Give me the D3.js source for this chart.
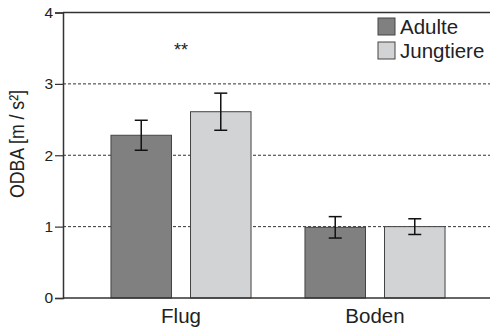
<!DOCTYPE html>
<html>
<head>
    <meta charset="utf-8">
    <style>
        body { margin: 0; background: #fff; }
        svg { display: block; font-family: 'Liberation Sans', Arial, Helvetica, sans-serif; }
    </style>
</head>
<body>
<svg width="490" height="332"></svg>

<script src="https://d3js.org/d3.v7.min.js"></script>
<script>
    // data
    let categories = ["Flug", "Boden"]
    let groups = ["Adulte", "Jungtiere"]
    let adulte = [2.28, 0.99]
    let adulteErr = [0.21, 0.15]
    let jungtiere = [2.61, 1.0]
    let jungtiereErr = [0.26, 0.11]
    let yTicks = [0, 1, 2, 3, 4]
    let gridTicks = [1, 2, 3]

    let colors = { "Adulte": "#808080", "Jungtiere": "#d2d3d5" }

    let rows = []
    categories.forEach((c, i) => {
        rows.push({ cat: c, grp: "Adulte", val: adulte[i], err: adulteErr[i] })
        rows.push({ cat: c, grp: "Jungtiere", val: jungtiere[i], err: jungtiereErr[i] })
    })

    let svg = d3.select("svg")
    let mLeft = 63, mRight = 490, mTop = 12.5, mBottom = 298

    let y = d3.scaleLinear().domain([0, 4]).range([mBottom, mTop])

    let x0 = d3.scaleBand()
        .domain(categories)
        .range([84, 472])
        .paddingInner(0.278)
        .paddingOuter(0.139)

    let x1 = d3.scaleBand()
        .domain(groups)
        .range([0, x0.bandwidth()])
        .paddingInner(0.239)

    // dashed grid
    svg.append("g")
        .selectAll("line")
        .data(gridTicks)
        .join("line")
        .attr("x1", mLeft).attr("x2", mRight)
        .attr("y1", d => y(d)).attr("y2", d => y(d))
        .attr("stroke", "#333")
        .attr("stroke-width", 1)
        .attr("stroke-dasharray", "3,2")

    // top border
    svg.append("line")
        .attr("x1", mLeft).attr("x2", mRight)
        .attr("y1", mTop).attr("y2", mTop)
        .attr("stroke", "#333").attr("stroke-width", 1.5)

    // bars
    svg.append("g")
        .selectAll("rect")
        .data(rows)
        .join("rect")
        .attr("x", d => x0(d.cat) + x1(d.grp))
        .attr("y", d => y(d.val))
        .attr("width", x1.bandwidth())
        .attr("height", d => y(0) - y(d.val))
        .attr("fill", d => colors[d.grp])
        .attr("stroke", "#444")
        .attr("stroke-width", 1)

    // error bars
    let eb = svg.append("g")
        .selectAll("g")
        .data(rows)
        .join("g")
        .attr("stroke", "#111")
        .attr("stroke-width", 1.5)
    let cx = d => x0(d.cat) + x1(d.grp) + x1.bandwidth() / 2
    eb.append("line")
        .attr("x1", cx).attr("x2", cx)
        .attr("y1", d => y(d.val + d.err)).attr("y2", d => y(d.val - d.err))
    eb.append("line")
        .attr("x1", d => cx(d) - 6.5).attr("x2", d => cx(d) + 6.5)
        .attr("y1", d => y(d.val + d.err)).attr("y2", d => y(d.val + d.err))
    eb.append("line")
        .attr("x1", d => cx(d) - 6.5).attr("x2", d => cx(d) + 6.5)
        .attr("y1", d => y(d.val - d.err)).attr("y2", d => y(d.val - d.err))

    // y axis
    let yAxis = svg.append("g")
        .attr("transform", `translate(${mLeft},0)`)
        .call(d3.axisLeft(y).tickValues(yTicks).tickFormat(d3.format("d")).tickSize(8).tickPadding(2))
    yAxis.select(".domain").attr("stroke", "#333").attr("stroke-width", 1.5)
    yAxis.selectAll(".tick line").attr("stroke", "#333").attr("stroke-width", 1.2)
    yAxis.selectAll(".tick text")
        .attr("font-size", 15.5)
        .attr("font-family", "'Liberation Sans', Arial, sans-serif")
        .attr("fill", "#222")

    // x axis
    let xAxis = svg.append("g")
        .attr("transform", `translate(0,${mBottom})`)
        .call(d3.axisBottom(x0).tickSize(0).tickPadding(10))
    xAxis.select(".domain").attr("d", `M${mLeft},0H${mRight}`).attr("stroke", "#333").attr("stroke-width", 1.5)
    xAxis.selectAll(".tick text")
        .attr("font-size", 20.5)
        .attr("font-family", "'Liberation Sans', Arial, sans-serif")
        .attr("fill", "#222")

    // y label
    svg.append("text")
        .attr("transform", "translate(23.5,144) rotate(-90)")
        .attr("text-anchor", "middle")
        .attr("font-size", 20)
        .attr("textLength", 108)
        .attr("lengthAdjust", "spacingAndGlyphs")
        .attr("fill", "#222")
        .text("ODBA [m / s²]")

    // significance
    svg.append("text")
        .attr("x", x0("Flug") + x0.bandwidth() / 2)
        .attr("y", 56)
        .attr("text-anchor", "middle")
        .attr("font-size", 18)
        .attr("fill", "#222")
        .text("**")

    // legend
    let legend = svg.append("g")
        .selectAll("g")
        .data(groups)
        .join("g")
        .attr("transform", (d, i) => `translate(378,${18 + i * 24})`)
    legend.append("rect")
        .attr("width", 17).attr("height", 17)
        .attr("fill", d => colors[d])
        .attr("stroke", "#444")
    legend.append("text")
        .attr("x", 22)
        .attr("y", 15.5)
        .attr("font-size", 20.5)
        .attr("fill", "#222")
        .text(d => d)
</script>
</body>
</html>
